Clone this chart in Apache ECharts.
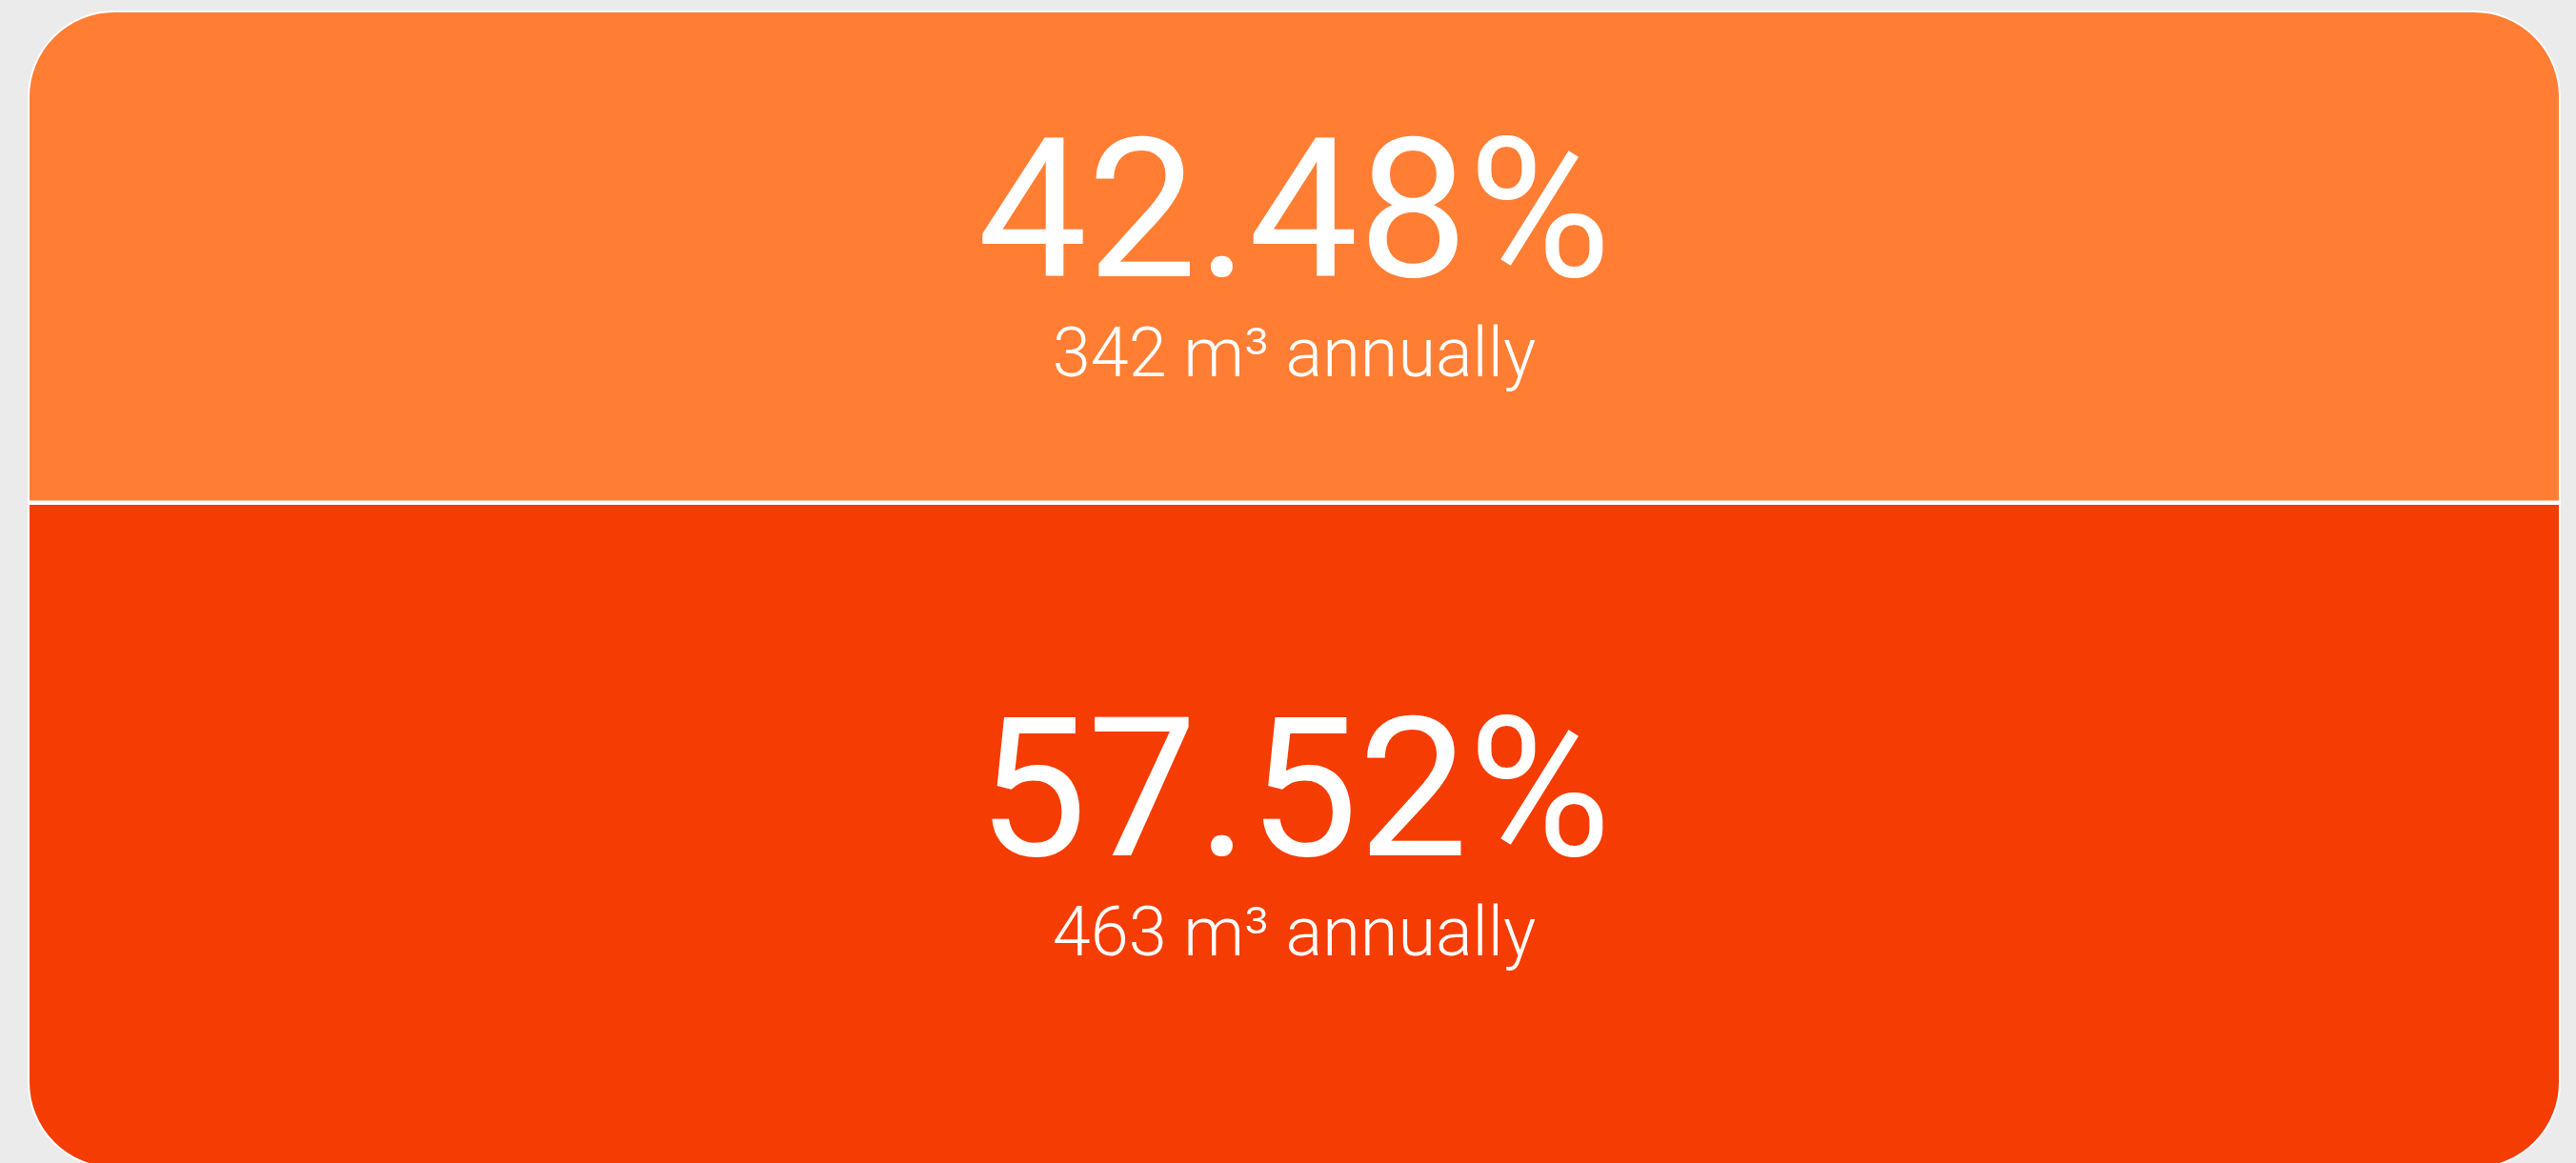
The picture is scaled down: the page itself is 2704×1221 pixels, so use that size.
<!DOCTYPE html>
<html>
<head>
<meta charset="utf-8">
<script src="https://cdn.jsdelivr.net/npm/echarts@6/dist/echarts.min.js"></script>
<style>
html,body{margin:0;padding:0;background:#ebebeb;}
#chart{width:2704px;height:1221px;}
</style>
</head>
<body>
<div id="chart"></div>
<script>
// ---- data ----
const categories = ['Water use'];
const segmentNames = ['Segment B', 'Segment A'];   // bottom, top
const volumes = [463, 342];                        // m³ annually, bottom -> top
const unitText = 'm³ annually';
const segmentColors = ['#F53C02', '#FF7E34'];

const total = volumes.reduce((a, b) => a + b, 0);

const chart = echarts.init(document.getElementById('chart'), null, { renderer: 'canvas' });

const R = 90;
function makeSeries(i) {
  const isTop = i === volumes.length - 1;
  const isBottom = i === 0;
  const s = {
    name: segmentNames[i],
    type: 'bar',
    stack: 'total',
    barWidth: '100%',
    barCategoryGap: '0%',
    data: [volumes[i]],
    itemStyle: {
      color: segmentColors[i],
      borderColor: '#ffffff',
      borderWidth: 2,
      borderRadius: isTop ? [R, R, 0, 0] : (isBottom ? [0, 0, R, R] : 0)
    },
    label: {
      show: true,
      position: 'inside',
      offset: [0, 3],
      padding: 0,
      formatter: function (p) {
        const pct = (p.value / total * 100).toFixed(2) + '%';
        return '{p|' + pct + '}\n{s|' + p.value + ' ' + unitText + '}';
      },
      rich: {
        p: { fontFamily: 'Roboto', fontSize: 205, lineHeight: 210, color: '#ffffff', fontWeight: 400 },
        s: { fontFamily: 'Roboto', fontSize: 72, lineHeight: 68, color: '#ffffff', fontWeight: 300 }
      }
    },
    emphasis: { disabled: true },
    silent: true
  };
  if (isTop) {
    s.markLine = {
      silent: true,
      symbol: 'none',
      label: { show: false },
      lineStyle: { color: '#ffffff', width: 4, type: 'solid' },
      data: [{ yAxis: volumes[0] }]
    };
  }
  return s;
}

const option = {
  backgroundColor: '#ebebeb',
  animation: false,
  grid: { left: 29, top: 11, width: 2659, height: 1216, containLabel: false, outerBoundsMode: 'none' },
  xAxis: { type: 'category', data: categories, show: false },
  yAxis: { type: 'value', min: 0, max: total, show: false },
  series: volumes.map((v, i) => makeSeries(i))
};

chart.setOption(option);
</script>
</body>
</html>
